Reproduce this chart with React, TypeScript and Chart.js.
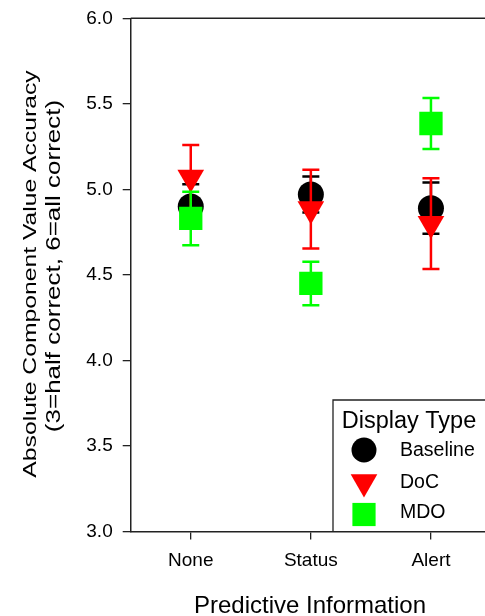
import React, { useEffect, useRef } from 'react';
import { Chart, registerables } from 'chart.js';

Chart.register(...registerables);

const categories = ['None', 'Status', 'Alert'];
const seriesNames = ['Baseline', 'DoC', 'MDO'];
const seriesColors = ['#000000', '#ff0000', '#00ff00'];
const baselineMeans = [4.9, 4.97, 4.89];
const baselineErr = [0.13, 0.105, 0.15];
const docMeans = [5.07, 4.885, 4.8];
const docErr = [0.19, 0.23, 0.265];
const mdoMeans = [4.83, 4.45, 5.385];
const mdoErr = [0.156, 0.127, 0.149];
const yMin = 3.0;
const yMax = 6.0;
const yStep = 0.5;
const xTitle = 'Predictive Information';
const yTitle1 = 'Absolute Component Value Accuracy';
const yTitle2 = '(3=half correct, 6=all correct)';
const legendTitle = 'Display Type';

const FONT = "'Liberation Sans', Arial, Helvetica, sans-serif";
const TEXT = '#000000';
const AXIS = '#222222';

const errorBarPlugin = {
  id: 'errorBars',
  beforeDatasetDraw(chart: any, args: any) {
    const ds = chart.data.datasets[args.index];
    const errs: number[] = ds.errors;
    if (!errs) return;
    const yScale = chart.scales.y;
    const ctx = chart.ctx;
    ctx.save();
    ctx.strokeStyle = ds.backgroundColor;
    ctx.lineWidth = 2.5;
    args.meta.data.forEach((pt: any, i: number) => {
      const v = ds.data[i];
      const e = errs[i];
      const x = pt.x;
      const yTop = yScale.getPixelForValue(v + e);
      const yBot = yScale.getPixelForValue(v - e);
      ctx.beginPath();
      ctx.moveTo(x, yTop);
      ctx.lineTo(x, yBot);
      ctx.moveTo(x - 8.5, yTop);
      ctx.lineTo(x + 8.5, yTop);
      ctx.moveTo(x - 8.5, yBot);
      ctx.lineTo(x + 8.5, yBot);
      ctx.stroke();
    });
    ctx.restore();
  },
};

const decorPlugin = {
  id: 'decor',
  afterDraw(chart: any) {
    const ctx = chart.ctx;
    const ca = chart.chartArea;
    ctx.save();
    // top frame line
    ctx.strokeStyle = AXIS;
    ctx.lineWidth = 1.5;
    ctx.beginPath();
    ctx.moveTo(ca.left, ca.top);
    ctx.lineTo(ca.right, ca.top);
    ctx.lineTo(ca.right, ca.bottom);
    ctx.stroke();

    // x title
    ctx.fillStyle = TEXT;
    ctx.font = `24px ${FONT}`;
    ctx.textAlign = 'center';
    ctx.textBaseline = 'alphabetic';
    ctx.fillText(xTitle, 310, 612.5);

    // y titles (rotated, stretched along text)
    ctx.save();
    ctx.translate(36, 274);
    ctx.rotate(-Math.PI / 2);
    ctx.scale(1.3, 1);
    ctx.font = `19px ${FONT}`;
    ctx.fillText(yTitle1, 0, 0);
    ctx.restore();

    ctx.save();
    ctx.translate(60, 266);
    ctx.rotate(-Math.PI / 2);
    ctx.scale(1.3, 1);
    ctx.font = `20px ${FONT}`;
    ctx.fillText(yTitle2, 0, 0);
    ctx.restore();

    // legend
    const lx = 333;
    const ly = 400;
    ctx.lineWidth = 1.3;
    ctx.strokeStyle = AXIS;
    ctx.beginPath();
    ctx.moveTo(ca.right + 20, ly);
    ctx.lineTo(lx, ly);
    ctx.lineTo(lx, ca.bottom);
    ctx.stroke();

    ctx.textAlign = 'left';
    ctx.font = `23.5px ${FONT}`;
    ctx.fillStyle = TEXT;
    ctx.fillText(legendTitle, lx + 8.7, 428.3);

    const rowY = [450, 482, 514.5];
    const textY = [456, 488.3, 518.3];
    const mx = lx + 31;
    ctx.font = `19.5px ${FONT}`;
    seriesNames.forEach((name, i) => {
      ctx.fillStyle = seriesColors[i];
      const cy = rowY[i];
      ctx.beginPath();
      if (i === 0) {
        ctx.arc(mx, cy, 12.5, 0, Math.PI * 2);
      } else if (i === 1) {
        const r = 15.4;
        ctx.moveTo(mx, cy + r);
        ctx.lineTo(mx - r * Math.sin(Math.PI / 3), cy - r / 2);
        ctx.lineTo(mx + r * Math.sin(Math.PI / 3), cy - r / 2);
        ctx.closePath();
      } else {
        ctx.rect(mx - 11.6, cy - 11.6, 23.2, 23.2);
      }
      ctx.fill();
      ctx.fillStyle = TEXT;
      ctx.fillText(name, lx + 67, textY[i]);
    });
    ctx.restore();
  },
};

export default function App() {
  const canvasRef = useRef<HTMLCanvasElement | null>(null);

  useEffect(() => {
    const canvas = canvasRef.current;
    if (!canvas) return;
    const chart = new Chart(canvas, {
      type: 'line',
      data: {
        labels: categories,
        datasets: [
          {
            label: seriesNames[0],
            data: baselineMeans,
            errors: baselineErr,
            backgroundColor: seriesColors[0],
            borderColor: seriesColors[0],
            pointStyle: 'circle',
            pointRadius: 13,
            pointBorderWidth: 0,
            showLine: false,
            order: 2,
          } as any,
          {
            label: seriesNames[1],
            data: docMeans,
            errors: docErr,
            backgroundColor: seriesColors[1],
            borderColor: seriesColors[1],
            pointStyle: 'triangle',
            pointRotation: 180,
            pointRadius: 15.4,
            pointBorderWidth: 0,
            showLine: false,
            order: 1,
          } as any,
          {
            label: seriesNames[2],
            data: mdoMeans,
            errors: mdoErr,
            backgroundColor: seriesColors[2],
            borderColor: seriesColors[2],
            pointStyle: 'rect',
            pointRadius: 16.5,
            pointBorderWidth: 0,
            showLine: false,
            order: 0,
          } as any,
        ],
      },
      options: {
        responsive: false,
        animation: false,
        devicePixelRatio: 1,
        layout: { autoPadding: false, padding: { top: 18.3, right: 9, left: 0, bottom: 0 } },
        plugins: {
          legend: { display: false },
          tooltip: { enabled: false },
        },
        scales: {
          x: {
            type: 'category',
            offset: true,
            grid: {
              display: true,
              drawOnChartArea: false,
              drawTicks: true,
              tickLength: 8,
              color: AXIS,
              lineWidth: 1.3,
            },
            border: { display: true, color: AXIS, width: 1.5 },
            ticks: {
              color: TEXT,
              font: { family: FONT, size: 19 },
              padding: 10,
              maxRotation: 0,
            },
            afterFit(scale: any) {
              scale.height = 84.5;
              scale.paddingLeft = 0;
              scale.paddingRight = 0;
            },
          },
          y: {
            type: 'linear',
            min: yMin,
            max: yMax,
            ticks: {
              stepSize: yStep,
              color: TEXT,
              font: { family: FONT, size: 19 },
              padding: 10,
              callback: (v: any) => Number(v).toFixed(1),
            },
            grid: {
              display: true,
              drawOnChartArea: false,
              drawTicks: true,
              tickLength: 8,
              color: AXIS,
              lineWidth: 1.3,
            },
            border: { display: true, color: AXIS, width: 1.5 },
            afterFit(scale: any) {
              scale.width = 130.7;
              scale.paddingTop = 0;
              scale.paddingBottom = 0;
            },
          },
        },
      } as any,
      plugins: [errorBarPlugin, decorPlugin],
    });
    return () => chart.destroy();
  }, []);

  return (
    <div
      style={{
        position: 'fixed',
        left: 0,
        top: 0,
        width: 485,
        height: 616,
        overflow: 'hidden',
        background: '#fff',
      }}
    >
      <canvas
        ref={canvasRef}
        width={500}
        height={616}
        style={{ width: 500, height: 616, display: 'block' }}
      />
    </div>
  );
}
